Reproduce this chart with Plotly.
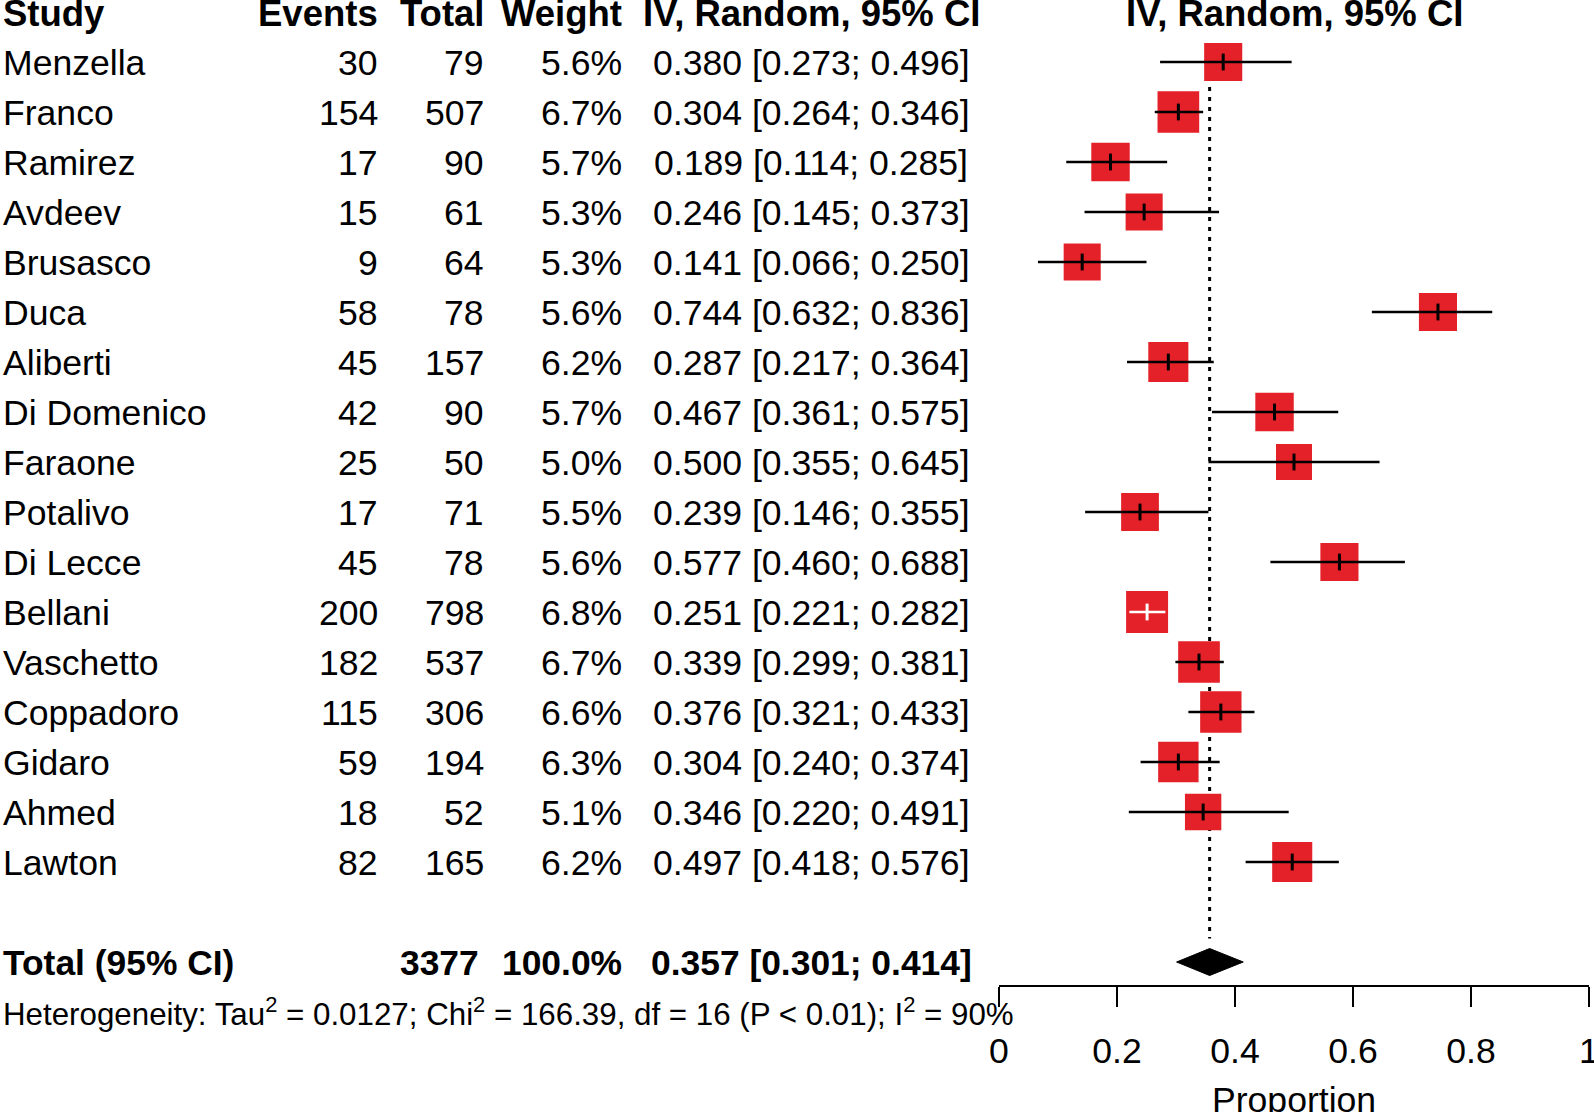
import numpy as np
import plotly.graph_objects as go

# ---------------- data ----------------
studies = ["Menzella", "Franco", "Ramirez", "Avdeev", "Brusasco", "Duca", "Aliberti",
           "Di Domenico", "Faraone", "Potalivo", "Di Lecce", "Bellani", "Vaschetto",
           "Coppadoro", "Gidaro", "Ahmed", "Lawton"]
events = [30, 154, 17, 15, 9, 58, 45, 42, 25, 17, 45, 200, 182, 115, 59, 18, 82]
totals = [79, 507, 90, 61, 64, 78, 157, 90, 50, 71, 78, 798, 537, 306, 194, 52, 165]
weights = [5.6, 6.7, 5.7, 5.3, 5.3, 5.6, 6.2, 5.7, 5.0, 5.5, 5.6, 6.8, 6.7, 6.6, 6.3, 5.1, 6.2]
proportions = [0.380, 0.304, 0.189, 0.246, 0.141, 0.744, 0.287, 0.467, 0.500, 0.239,
               0.577, 0.251, 0.339, 0.376, 0.304, 0.346, 0.497]
ci_lower = [0.273, 0.264, 0.114, 0.145, 0.066, 0.632, 0.217, 0.361, 0.355, 0.146,
            0.460, 0.221, 0.299, 0.321, 0.240, 0.220, 0.418]
ci_upper = [0.496, 0.346, 0.285, 0.373, 0.250, 0.836, 0.364, 0.575, 0.645, 0.355,
            0.688, 0.282, 0.381, 0.433, 0.374, 0.491, 0.576]

total_label = "Total (95% CI)"
total_n = 3377
total_weight = 100.0
total_prop = 0.357
total_lower = 0.301
total_upper = 0.414

tau2 = "0.0127"
chi2 = "166.39"
het_df = 16
het_p = "P &lt; 0.01"
i2 = "90%"

headers = ["Study", "Events", "Total", "Weight", "IV, Random, 95% CI"]
plot_header = "IV, Random, 95% CI"
x_tickvals = [0, 0.2, 0.4, 0.6, 0.8, 1]
x_ticktext = ["0", "0.2", "0.4", "0.6", "0.8", "1"]
x_title = "Proportion"

# ---------------- layout constants ----------------
W, H = 1594, 1112
ROW_PX = 50.0
ROW0_PX = 12.0          # pixel centre of header row (row 0)
TEXT_DY = 0.02          # small downward nudge for table text (rows)
X0_PX, X1_PX = 999.0, 1589.0
PX_PER_UNIT = X1_PX - X0_PX
FONT = "Liberation Sans, Arial, Helvetica, sans-serif"
FS = 35.6
FS_BOLD = 36.5
FS_TOTAL = 35.4
FS_HET = 31.3
RED = "#E42128"

COL_STUDY_LEFT = 1
COL_EVENTS_RIGHT = 380
COL_TOTAL_RIGHT = 486
COL_TOTAL_N_RIGHT = 481
COL_WEIGHT_RIGHT = 624
COL_CI_CENTER = 811.5

SQUARE_K = 16.1         # square side (px) per sqrt(weight)
DIAMOND_HALF = 0.27     # rows
AXIS_PX = 986.0


def prow(p):
    return (p - ROW0_PX) / ROW_PX


n = len(studies)
rows = [i + 1 for i in range(n)]
total_row = n + 2

fig = go.Figure()

# reference (dotted) line at pooled estimate
fig.add_trace(go.Scatter(
    x=[total_prop, total_prop], y=[0.7, total_row - DIAMOND_HALF - 0.2],
    mode="lines", line=dict(color="black", width=3, dash="4px,6px"),
    hoverinfo="skip", showlegend=False))

# squares
sizes = [SQUARE_K * np.sqrt(w) for w in weights]
fig.add_trace(go.Scatter(
    x=proportions, y=rows, mode="markers",
    marker=dict(symbol="square", size=sizes, color=RED, opacity=1, line=dict(width=0)),
    hoverinfo="skip", showlegend=False))

# CI lines (white when the CI lies inside the square)
ci_colors = []
for lo, hi, s in zip(ci_lower, ci_upper, sizes):
    ci_colors.append("white" if (hi - lo) * PX_PER_UNIT < s else "black")

for col in ["black", "white"]:
    xs, ys = [], []
    for lo, hi, r, c in zip(ci_lower, ci_upper, rows, ci_colors):
        if c == col:
            xs += [lo, hi, None]
            ys += [r, r, None]
    if xs:
        fig.add_trace(go.Scatter(
            x=xs, y=ys, mode="lines", line=dict(color=col, width=2.6),
            hoverinfo="skip", showlegend=False))
    px_ = [p for p, c in zip(proportions, ci_colors) if c == col]
    py_ = [r for r, c in zip(rows, ci_colors) if c == col]
    if px_:
        fig.add_trace(go.Scatter(
            x=px_, y=py_, mode="markers",
            marker=dict(symbol="line-ns", size=12, color=col, opacity=1,
                        line=dict(color=col, width=3)),
            hoverinfo="skip", showlegend=False))

# diamond
fig.add_trace(go.Scatter(
    x=[total_lower, total_prop, total_upper, total_prop, total_lower],
    y=[total_row, total_row - DIAMOND_HALF, total_row, total_row + DIAMOND_HALF, total_row],
    mode="lines", fill="toself", fillcolor="black", line=dict(color="black", width=1),
    hoverinfo="skip", showlegend=False))

# ---------------- text table ----------------
ann = []


def add_text(text, xpx, row, anchor, size=FS, bold=False, xref="paper"):
    t = f"<b>{text}</b>" if bold else text
    ann.append(dict(
        text=t, x=(xpx / W) if xref == "paper" else xpx, xref=xref,
        y=row + TEXT_DY, yref="y", xanchor=anchor, yanchor="middle", showarrow=False,
        font=dict(family=FONT, size=size, color="black")))


# headers
add_text(headers[0], COL_STUDY_LEFT, 0, "left", size=FS_BOLD, bold=True)
add_text(headers[1], COL_EVENTS_RIGHT, 0, "right", size=FS_BOLD, bold=True)
add_text(headers[2], COL_TOTAL_RIGHT, 0, "right", size=FS_BOLD, bold=True)
add_text(headers[3], COL_WEIGHT_RIGHT, 0, "right", size=FS_BOLD, bold=True)
add_text(headers[4], COL_CI_CENTER, 0, "center", size=FS_BOLD, bold=True)
add_text(plot_header, 0.5, 0, "center", size=FS_BOLD, bold=True, xref="x")

for i in range(n):
    r = rows[i]
    add_text(studies[i], COL_STUDY_LEFT, r, "left")
    add_text(str(events[i]), COL_EVENTS_RIGHT, r, "right")
    add_text(str(totals[i]), COL_TOTAL_RIGHT, r, "right")
    add_text(f"{weights[i]:.1f}%", COL_WEIGHT_RIGHT, r, "right")
    add_text(f"{proportions[i]:.3f} [{ci_lower[i]:.3f}; {ci_upper[i]:.3f}]",
             COL_CI_CENTER, r, "center")

add_text(total_label, COL_STUDY_LEFT, total_row, "left", size=FS_TOTAL, bold=True)
add_text(str(total_n), COL_TOTAL_N_RIGHT, total_row, "right", size=FS_TOTAL, bold=True)
add_text(f"{total_weight:.1f}%", COL_WEIGHT_RIGHT, total_row, "right", size=FS_TOTAL, bold=True)
add_text(f"{total_prop:.3f} [{total_lower:.3f}; {total_upper:.3f}]",
         COL_CI_CENTER, total_row, "center", size=FS_TOTAL, bold=True)

het = (f"Heterogeneity: Tau<sup>2</sup> = {tau2}; Chi<sup>2</sup> = {chi2}, "
       f"df = {het_df} ({het_p}); I<sup>2</sup> = {i2}")
add_text(het, COL_STUDY_LEFT, prow(1011), "left", size=FS_HET)

add_text(x_title, 0.5, prow(1099), "center", xref="x")

fig.update_layout(
    width=W, height=H, autosize=False,
    margin=dict(l=0, r=0, t=0, b=0, pad=0, autoexpand=False),
    paper_bgcolor="white", plot_bgcolor="white",
    annotations=ann,
    xaxis=dict(domain=[X0_PX / W, X1_PX / W], range=[0, 1], anchor="free",
               position=1 - AXIS_PX / H, showgrid=False, zeroline=False,
               automargin=False,
               showline=True, linecolor="black", linewidth=2,
               ticks="outside", ticklen=20, tickwidth=2, tickcolor="black",
               tickvals=x_tickvals, ticktext=x_ticktext, ticklabelstandoff=13,
               ticklabeloverflow="allow",
               tickfont=dict(family=FONT, size=FS, color="black")),
    yaxis=dict(domain=[0, 1], range=[prow(H), prow(0)], visible=False,
               automargin=False),
    showlegend=False,
)

post = (
    "document.documentElement.style.overflow='hidden';"
    "document.body.style.margin='0';"
    "document.body.style.overflow='hidden';"
)
fig.write_html("out.html", config={"displayModeBar": False}, post_script=post)
